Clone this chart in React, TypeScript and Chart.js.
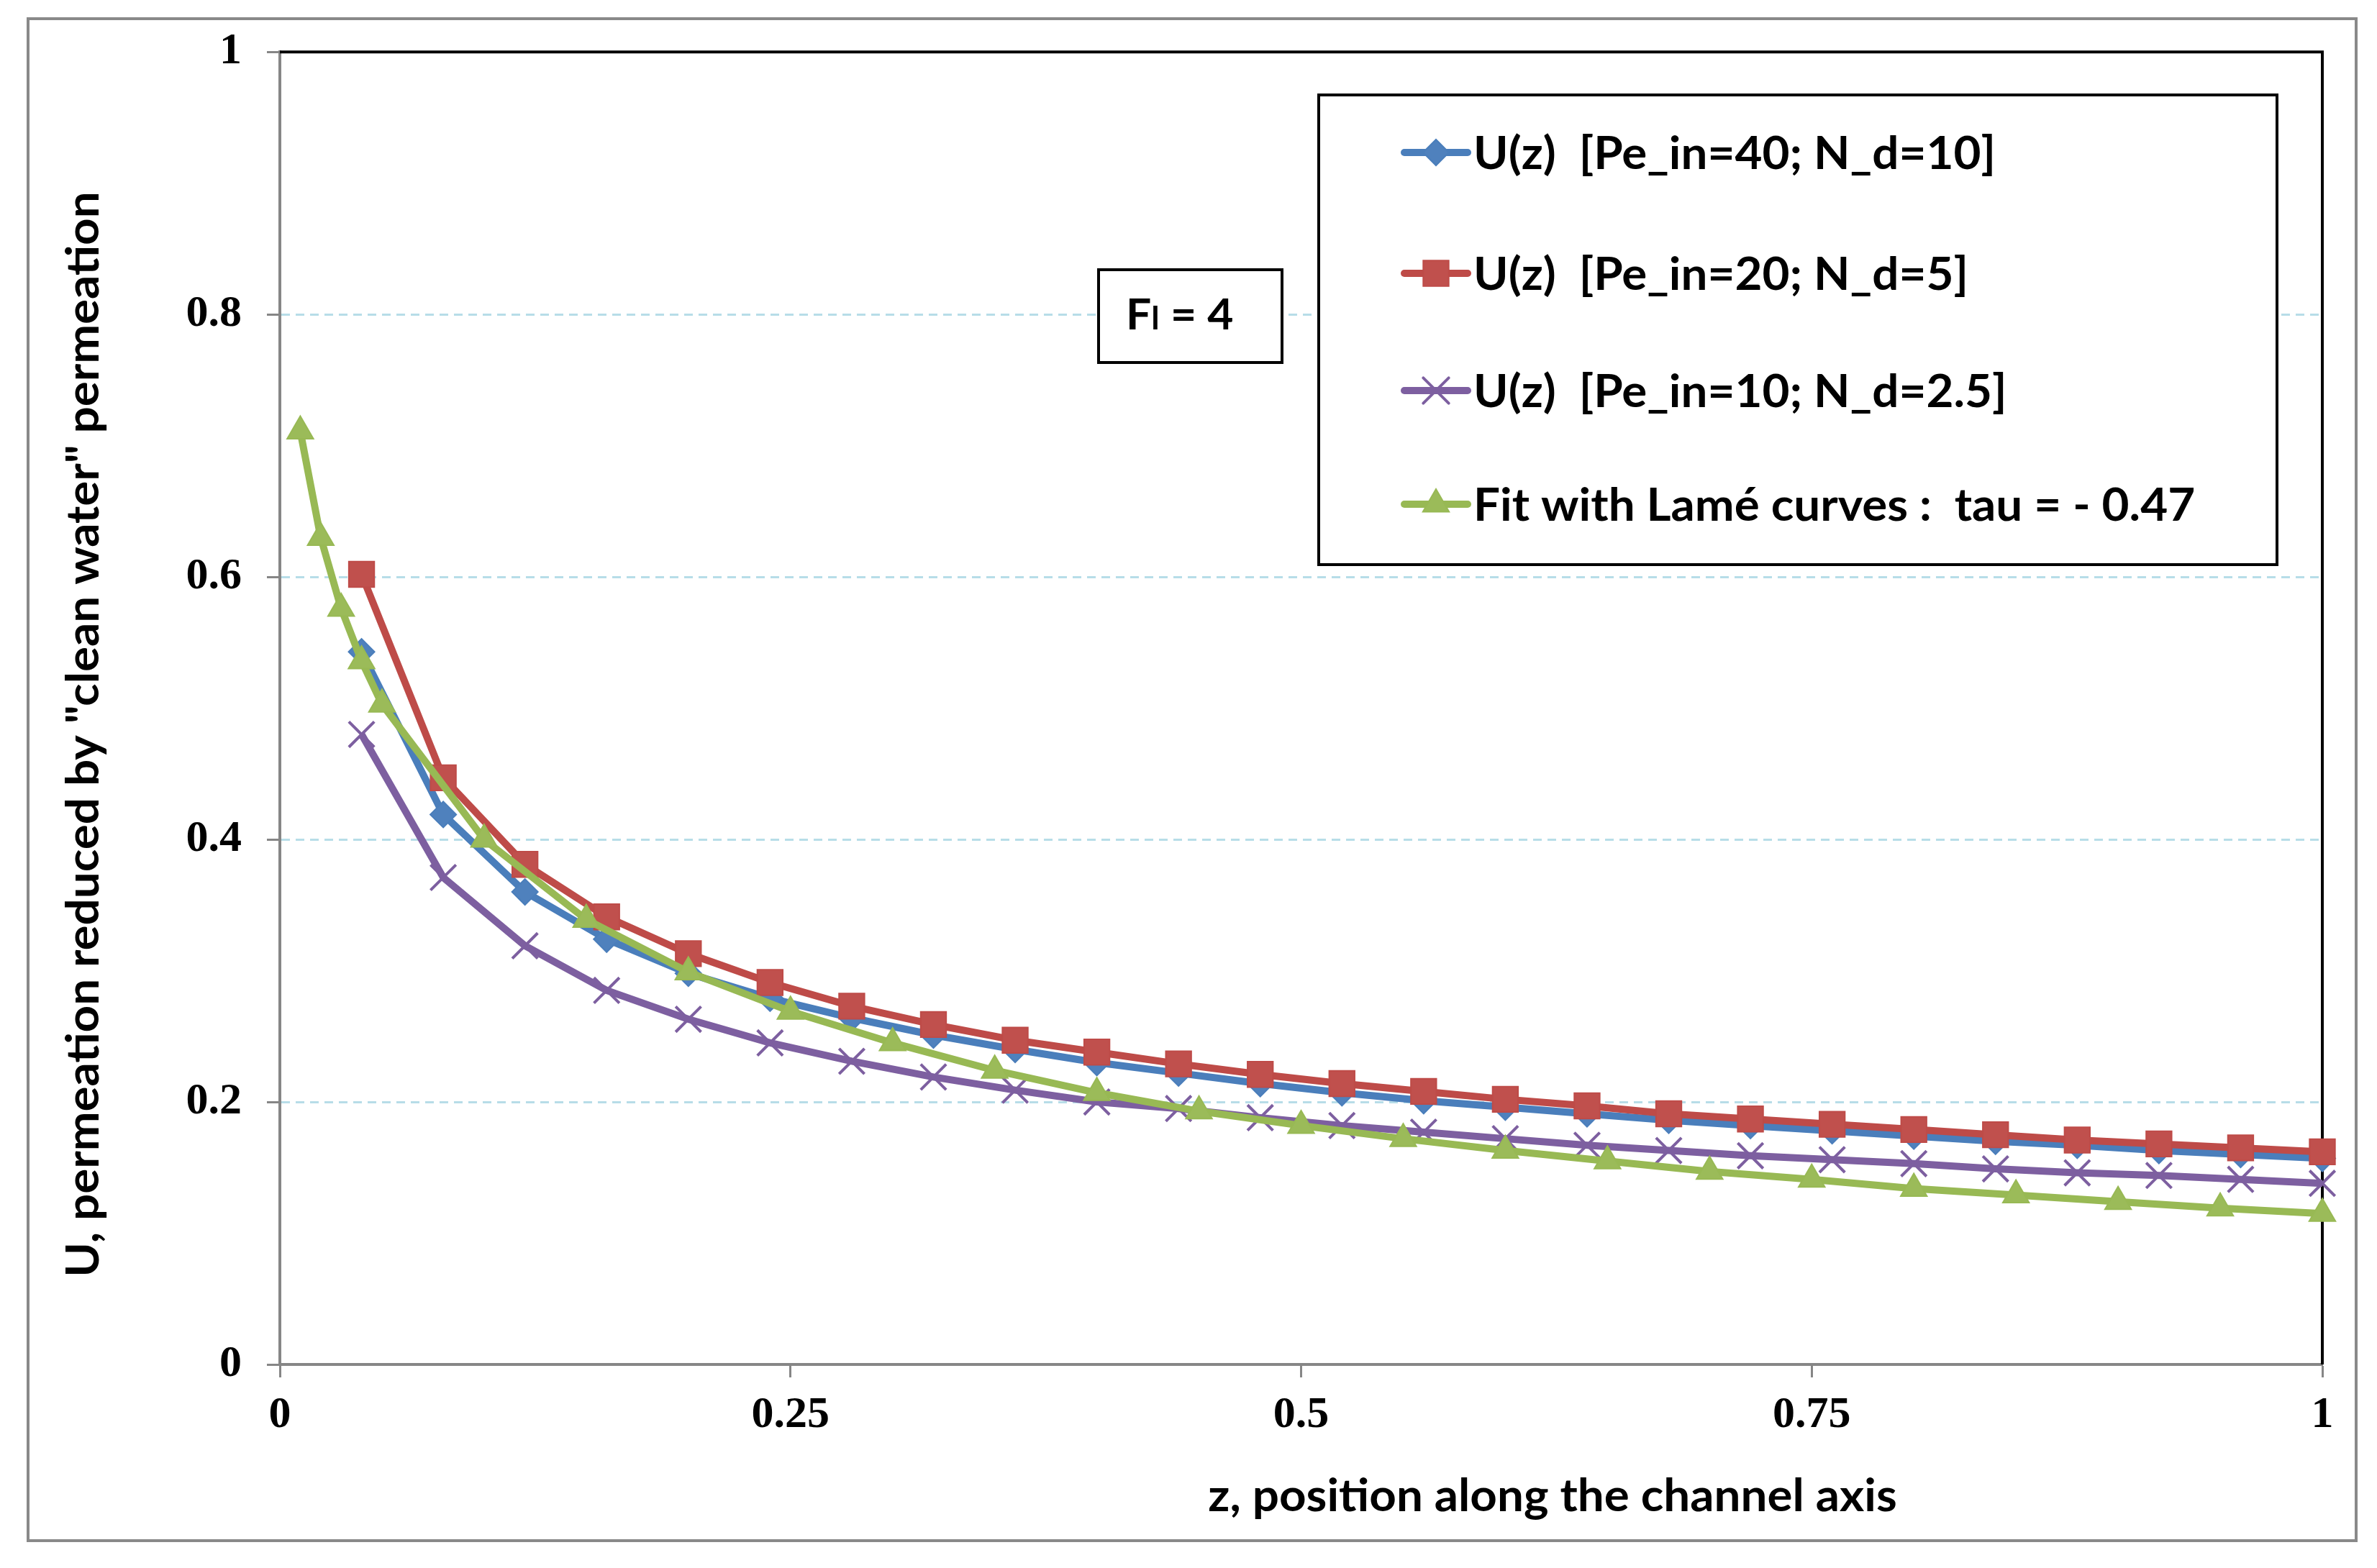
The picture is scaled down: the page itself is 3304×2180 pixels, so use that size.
import React, { useEffect, useRef } from 'react';
import { Chart, registerables } from 'chart.js';
import { drawPoint } from 'chart.js/helpers';

Chart.register(...registerables);

const W = 3304;
const H = 2180;

// z positions of the three simulated curves
const zU = [
  0.04, 0.08, 0.12, 0.16, 0.2, 0.24, 0.28, 0.32, 0.36, 0.4, 0.44, 0.48, 0.52,
  0.56, 0.6, 0.64, 0.68, 0.72, 0.76, 0.8, 0.84, 0.88, 0.92, 0.96, 1.0,
];
// z positions of the Lamé fit
const zFit = [
  0.01, 0.02, 0.03, 0.04, 0.05, 0.1, 0.15, 0.2, 0.25, 0.3, 0.35, 0.4, 0.45,
  0.5, 0.55, 0.6, 0.65, 0.7, 0.75, 0.8, 0.85, 0.9, 0.95, 1.0,
];

const uPe40 = [
  0.543, 0.419, 0.36, 0.324, 0.298, 0.279, 0.264, 0.251, 0.24, 0.23, 0.222,
  0.214, 0.207, 0.201, 0.196, 0.191, 0.186, 0.182, 0.178, 0.174, 0.17, 0.167,
  0.163, 0.16, 0.157,
];
const uPe20 = [
  0.602, 0.447, 0.381, 0.341, 0.313, 0.291, 0.273, 0.259, 0.247, 0.238, 0.229,
  0.221, 0.214, 0.208, 0.202, 0.197, 0.191, 0.187, 0.183, 0.179, 0.175, 0.171,
  0.168, 0.165, 0.162,
];
const uPe10 = [
  0.48, 0.371, 0.319, 0.285, 0.263, 0.245, 0.231, 0.219, 0.209, 0.2, 0.195,
  0.188, 0.182, 0.177, 0.172, 0.167, 0.163, 0.159, 0.156, 0.153, 0.149, 0.146,
  0.144, 0.141, 0.138,
];
const uFit = [
  0.711, 0.63, 0.576, 0.536, 0.503, 0.4, 0.339, 0.299, 0.269, 0.245, 0.224,
  0.207, 0.193, 0.182, 0.172, 0.163, 0.155, 0.147, 0.141, 0.134, 0.129, 0.124,
  0.119, 0.115,
];

const seriesLabels = [
  'U(z)  [Pe_in=40; N_d=10]',
  'U(z)  [Pe_in=20; N_d=5]',
  'U(z)  [Pe_in=10; N_d=2.5]',
  'Fit with Lamé curves :  tau = - 0.47',
];

const xTitle = 'z, position along the channel axis';
const yTitle = 'U, permeation reduced by "clean water" permeation';

const SANS = 'Lato, "Open Sans", sans-serif';
const SERIF = '"Liberation Serif", "Times New Roman", serif';
const AXIS_GREY = '#868686';

const pairs = (xs: number[], ys: number[]) => xs.map((x, i) => ({ x, y: ys[i] }));
const plainNumber = (v: string | number) => String(Number(Number(v).toFixed(2)));

// Calibri is not installed: Lato bold is drawn at Calibri's cap height and squeezed to its width
let squeeze = 1;
const calibriText = (
  ctx: CanvasRenderingContext2D,
  text: string,
  x: number,
  y: number,
  size: number,
  align: CanvasTextAlign = 'left',
) => {
  ctx.save();
  ctx.font = `bold ${size}px ${SANS}`;
  ctx.fillStyle = '#000';
  ctx.textAlign = align;
  ctx.textBaseline = 'alphabetic';
  ctx.translate(x, y);
  ctx.scale(squeeze, 1);
  ctx.fillText(text, 0, 0);
  const w = ctx.measureText(text).width * squeeze;
  ctx.restore();
  return w;
};

const framePlugin = {
  id: 'frame',
  beforeDraw(chart: Chart) {
    const ctx = chart.ctx;
    ctx.save();
    ctx.font = `bold 63px ${SANS}`;
    squeeze = 726 / ctx.measureText(seriesLabels[0]).width;
    ctx.fillStyle = '#fff';
    ctx.fillRect(0, 0, W, H);
    ctx.strokeStyle = '#898989';
    ctx.lineWidth = 4;
    ctx.strokeRect(39, 26, 3236, 2116);
    ctx.restore();
  },
  beforeDatasetsDraw(chart: Chart) {
    const { ctx, chartArea } = chart;
    ctx.save();
    ctx.strokeStyle = '#000';
    ctx.lineWidth = 4;
    ctx.beginPath();
    ctx.moveTo(chartArea.left, chartArea.top);
    ctx.lineTo(chartArea.right, chartArea.top);
    ctx.lineTo(chartArea.right, chartArea.bottom);
    ctx.stroke();
    ctx.restore();
  },
  afterDraw(chart: Chart) {
    const ctx = chart.ctx;

    // axis titles
    calibriText(ctx, xTitle, 2158, 2101, 63, 'center');
    ctx.save();
    ctx.translate(137, 1021);
    ctx.rotate(-Math.PI / 2);
    calibriText(ctx, yTitle, 0, 0, 63, 'center');
    ctx.restore();

    // F_l = 4 box
    ctx.save();
    ctx.fillStyle = '#fff';
    ctx.fillRect(1527, 375, 255, 129);
    ctx.strokeStyle = '#000';
    ctx.lineWidth = 4;
    ctx.strokeRect(1527, 375, 255, 129);
    ctx.restore();
    let fx = 1565;
    fx += calibriText(ctx, 'F', fx, 458, 60);
    fx += calibriText(ctx, 'l', fx, 458, 44);
    calibriText(ctx, ' = 4', fx, 458, 60);

    // legend
    ctx.save();
    ctx.fillStyle = '#fff';
    ctx.fillRect(1833, 132, 1332, 653);
    ctx.strokeStyle = '#000';
    ctx.lineWidth = 4;
    ctx.strokeRect(1833, 132, 1332, 653);
    ctx.restore();
    const rows = [212, 380, 543, 701];
    chart.data.datasets.forEach((ds: any, i: number) => {
      const yc = rows[i];
      ctx.save();
      ctx.strokeStyle = ds.borderColor;
      ctx.lineWidth = ds.borderWidth;
      ctx.lineCap = 'round';
      ctx.beginPath();
      ctx.moveTo(1952, yc);
      ctx.lineTo(2040, yc);
      ctx.stroke();
      ctx.fillStyle = ds.pointBackgroundColor;
      ctx.strokeStyle = ds.pointBorderColor;
      ctx.lineWidth = ds.pointBorderWidth;
      drawPoint(
        ctx,
        { pointStyle: ds.pointStyle, radius: ds.pointRadius, rotation: 0, borderWidth: ds.pointBorderWidth },
        1996,
        yc,
      );
      ctx.restore();
      calibriText(ctx, seriesLabels[i], 2048, yc + 23, 63);
    });
  },
};

const App: React.FC = () => {
  const canvasRef = useRef<HTMLCanvasElement>(null);

  useEffect(() => {
    document.body.style.margin = '0';
    document.body.style.overflow = 'hidden';
    if (!canvasRef.current) return;

    const tickFont = { family: SERIF, size: 62, weight: 'bold' as const };

    const chart = new Chart(canvasRef.current, {
      type: 'line',
      data: {
        datasets: [
          {
            label: seriesLabels[0],
            data: pairs(zU, uPe40),
            borderColor: '#4A7EBB',
            borderWidth: 10,
            pointStyle: 'rectRot',
            pointRadius: 18,
            pointBackgroundColor: '#4F81BD',
            pointBorderColor: '#4A7EBB',
            pointBorderWidth: 2,
            order: 4,
            clip: false,
          },
          {
            label: seriesLabels[1],
            data: pairs(zU, uPe20),
            borderColor: '#BE4B48',
            borderWidth: 10,
            pointStyle: 'rect',
            pointRadius: 25,
            pointBackgroundColor: '#C0504D',
            pointBorderColor: '#BE4B48',
            pointBorderWidth: 2,
            order: 3,
            clip: false,
          },
          {
            label: seriesLabels[2],
            data: pairs(zU, uPe10),
            borderColor: '#7D5FA0',
            borderWidth: 10,
            pointStyle: 'crossRot',
            pointRadius: 25,
            pointBackgroundColor: '#7D5FA0',
            pointBorderColor: '#7D5FA0',
            pointBorderWidth: 4,
            order: 2,
            clip: false,
          },
          {
            label: seriesLabels[3],
            data: pairs(zFit, uFit),
            borderColor: '#98B954',
            borderWidth: 10,
            pointStyle: 'triangle',
            pointRadius: 21,
            pointBackgroundColor: '#9BBB59',
            pointBorderColor: '#98B954',
            pointBorderWidth: 2,
            order: 1,
            clip: false,
          },
        ],
      },
      options: {
        responsive: false,
        animation: false,
        devicePixelRatio: 1,
        events: [],
        layout: { padding: { left: 0, right: W - 3228, top: 69, bottom: 0 } },
        plugins: {
          legend: { display: false },
          tooltip: { enabled: false },
        },
        scales: {
          x: {
            type: 'linear',
            min: 0,
            max: 1,
            afterFit: (s: any) => {
              s.height = H - 1897;
            },
            ticks: {
              stepSize: 0.25,
              font: tickFont,
              color: '#000',
              padding: 16,
              callback: plainNumber,
            },
            grid: {
              drawOnChartArea: false,
              tickLength: 18,
              tickColor: AXIS_GREY,
              tickWidth: 3,
            },
            border: { color: AXIS_GREY, width: 4 },
          },
          y: {
            type: 'linear',
            min: 0,
            max: 1,
            afterFit: (s: any) => {
              s.width = 389;
            },
            ticks: {
              stepSize: 0.2,
              font: tickFont,
              color: '#000',
              padding: 35,
              callback: plainNumber,
            },
            grid: {
              color: (c: any) =>
                c.tick && c.tick.value > 0 && c.tick.value < 1 ? '#B7DDE8' : 'rgba(0,0,0,0)',
              lineWidth: 3,
              tickLength: 18,
              tickColor: AXIS_GREY,
              tickWidth: 3,
              tickBorderDash: [],
            },
            // in Chart.js 4 the grid-line dash lives under border.dash
            border: { color: AXIS_GREY, width: 4, dash: [12, 8] },
          },
        },
      },
      plugins: [framePlugin],
    });

    return () => chart.destroy();
  }, []);

  return <canvas ref={canvasRef} width={W} height={H} style={{ display: 'block' }} />;
};

export default App;
